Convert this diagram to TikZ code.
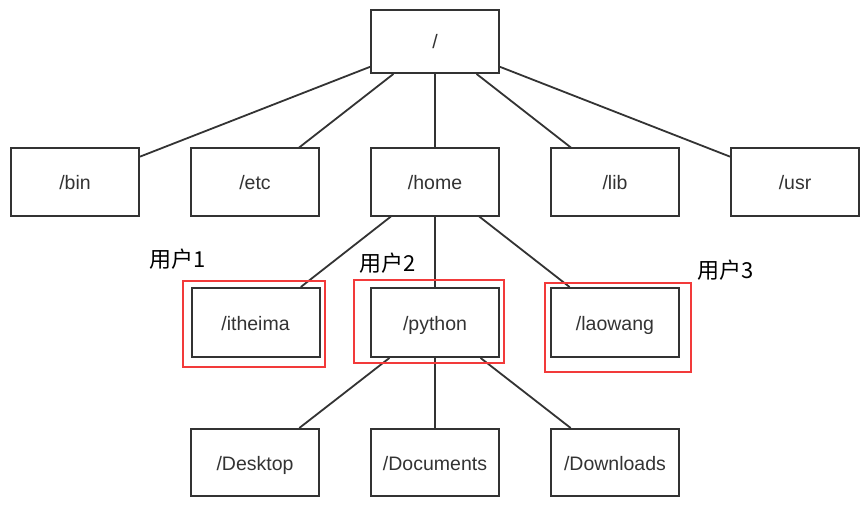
\documentclass[tikz,border=0pt]{standalone}
\usepackage{fontspec}
\setmainfont{Liberation Sans}
\newfontfamily\cjk{Noto Sans CJK SC}
\definecolor{ink}{HTML}{333333}
\definecolor{hl}{HTML}{F23A3A}
\begin{document}
\begin{tikzpicture}[x=1pt,y=-1pt,
  dir/.style={draw=ink,line width=2pt,fill=white,minimum width=128pt,minimum height=67pt,inner sep=0pt,
    text height=16.5pt,text depth=1.5pt,
    text=ink,font=\fontsize{19.5}{22}\selectfont},
  conn/.style={draw=ink,line width=1.8pt},
  hlbox/.style={draw=hl,line width=2.2pt},
  user/.style={font=\cjk\fontsize{22}{24}\selectfont,text=black,inner sep=0pt}]
\useasboundingbox (0,0) rectangle (868,508);
\fill[white] (0,0) rectangle (868,508);
% nodes
\node[dir,minimum height=63pt] (root) at (435,41.5) {/};
\node[dir] (bin)  at (75,182) {/bin};
\node[dir] (etc)  at (255,182) {/etc};
\node[dir] (home) at (435,182) {/home};
\node[dir] (lib)  at (615,182) {/lib};
\node[dir] (usr)  at (795,182) {/usr};
\node[dir,minimum height=69pt] (itheima) at (255.5,322.5) {/itheima};
\node[dir,minimum height=69pt] (python)  at (435,322.5) {/python};
\node[dir,minimum height=69pt] (laowang) at (615,322.5) {/laowang};
\node[dir] (desktop)   at (255,462.5) {/Desktop};
\node[dir] (documents) at (435,462.5) {/Documents};
\node[dir] (downloads) at (615,462.5) {/Downloads};
% connectors
\foreach \c in {bin,etc,home,lib,usr} \draw[conn] (root) -- (\c);
\foreach \c in {itheima,python,laowang} \draw[conn] (home) -- (\c);
\foreach \c in {desktop,documents,downloads} \draw[conn] (python) -- (\c);
% highlight boxes
\draw[hlbox] (183,281) rectangle (325,367);
\draw[hlbox] (354,280) rectangle (504,363);
\draw[hlbox] (545,283) rectangle (691,372);
% user labels
\node[user] (u1) at (178,259) {用户1};
\node[user] (u2) at (388,263) {用户2};
\node[user] (u3) at (726,270) {用户3};
\end{tikzpicture}
\end{document}
